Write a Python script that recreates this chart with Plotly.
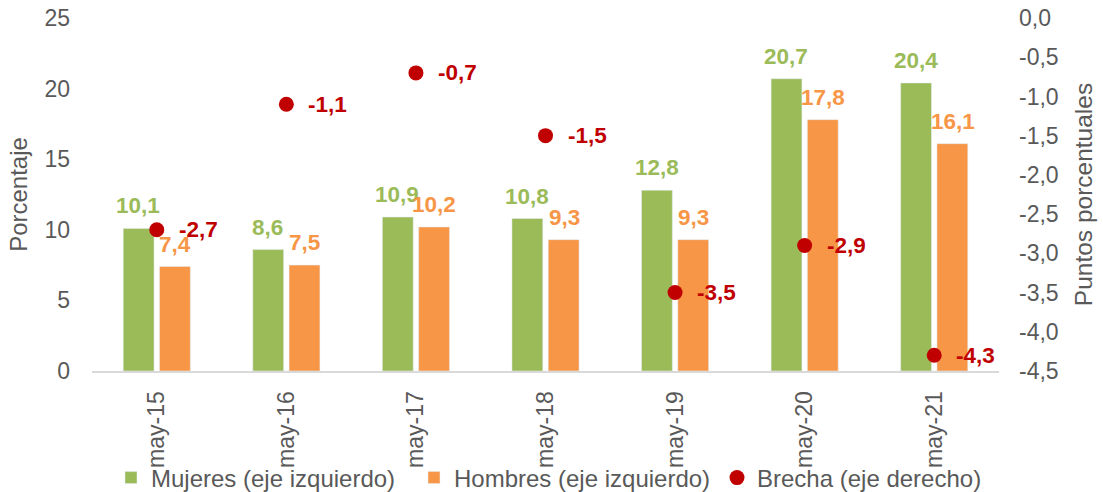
import plotly.graph_objects as go

categories = ["may-15", "may-16", "may-17", "may-18", "may-19", "may-20", "may-21"]
mujeres = [10.1, 8.6, 10.9, 10.8, 12.8, 20.7, 20.4]
hombres = [7.4, 7.5, 10.2, 9.3, 9.3, 17.8, 16.1]
brecha = [-2.7, -1.1, -0.7, -1.5, -3.5, -2.9, -4.3]

left_ticks = [0, 5, 10, 15, 20, 25]
right_ticks = [0.0, -0.5, -1.0, -1.5, -2.0, -2.5, -3.0, -3.5, -4.0, -4.5]

GREEN = "#9BBB59"
ORANGE = "#F79646"
RED = "#C00000"
GRAY = "#595959"
FONT = "Liberation Sans, Arial, sans-serif"

W, H = 1103, 492


def fmt(v):
    return f"{v:.1f}".replace(".", ",")


fig = go.Figure()
fig.add_trace(go.Bar(x=categories, y=mujeres, name="Mujeres (eje izquierdo)",
                     marker=dict(color=GREEN), yaxis="y"))
fig.add_trace(go.Bar(x=categories, y=hombres, name="Hombres (eje izquierdo)",
                     marker=dict(color=ORANGE), yaxis="y"))
fig.add_trace(go.Scatter(x=categories, y=brecha, name="Brecha (eje derecho)",
                         mode="markers", marker=dict(color=RED, size=15),
                         yaxis="y2"))

annotations = []
for c, v in zip(categories, mujeres):
    annotations.append(dict(x=c, y=v, xref="x", yref="y", text=fmt(v), showarrow=False,
                            xanchor="center", yanchor="bottom", xshift=-18.5, yshift=8,
                            font=dict(family=FONT, size=22.5, color=GREEN, weight="bold")))
for c, v in zip(categories, hombres):
    annotations.append(dict(x=c, y=v, xref="x", yref="y", text=fmt(v), showarrow=False,
                            xanchor="center", yanchor="bottom", xshift=18.5, yshift=8,
                            font=dict(family=FONT, size=22.5, color=ORANGE, weight="bold")))
for c, v in zip(categories, brecha):
    annotations.append(dict(x=c, y=v, xref="x", yref="y2", text=fmt(v), showarrow=False,
                            xanchor="left", yanchor="middle", xshift=20,
                            font=dict(family=FONT, size=22.5, color=RED, weight="bold")))

fig.update_layout(
    width=W, height=H,
    margin=dict(l=92, r=104, t=18, b=121, autoexpand=False),
    paper_bgcolor="white", plot_bgcolor="white",
    barmode="group", bargap=0.44, bargroupgap=0.15,
    font=dict(family=FONT, size=23, color=GRAY),
    xaxis=dict(type="category", showgrid=False, showline=True, linecolor="#D9D9D9",
               linewidth=2, ticks="", tickangle=-90, ticklabelstandoff=9,
               automargin=False, tickfont=dict(size=23, color=GRAY)),
    yaxis=dict(range=[0, 25], tickvals=left_ticks, ticktext=[str(t) for t in left_ticks],
               showgrid=False, zeroline=False, showline=False, ticks="",
               ticklabelstandoff=21, automargin=False, tickfont=dict(size=23, color=GRAY),
               title=dict(text="Porcentaje", font=dict(size=24, color=GRAY), standoff=10)),
    yaxis2=dict(range=[-4.5, 0], overlaying="y", side="right",
                tickvals=right_ticks, ticktext=[fmt(t) for t in right_ticks],
                showgrid=False, zeroline=False, showline=False, ticks="",
                ticklabelstandoff=19, automargin=False, tickfont=dict(size=23, color=GRAY),
                title=dict(text="Puntos porcentuales", font=dict(size=24.5, color=GRAY), standoff=17)),
    showlegend=True,
    legend=dict(orientation="h", xref="container", yref="container",
                x=111 / W, y=(H - 478) / H, xanchor="left", yanchor="middle",
                entrywidth=258, font=dict(size=24, color=GRAY), bgcolor="rgba(0,0,0,0)"),
    annotations=annotations,
)

fig.write_html("out.html", config={"displayModeBar": False},
               post_script="document.body.style.margin='0';document.body.style.overflow='hidden';")
